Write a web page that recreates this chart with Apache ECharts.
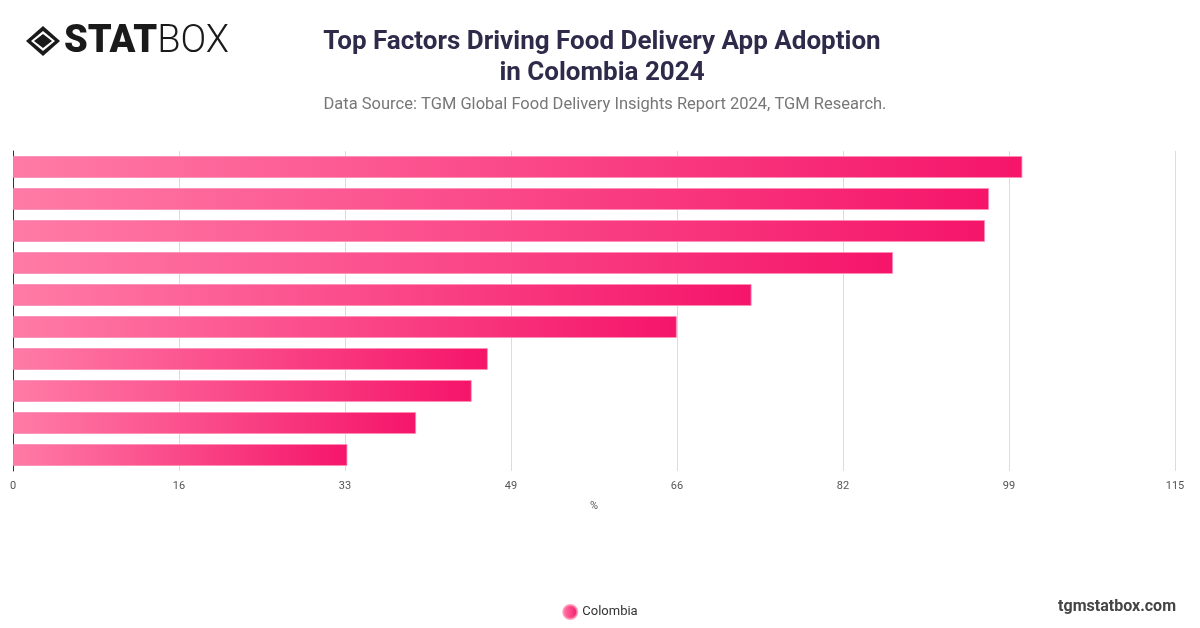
<!DOCTYPE html>
<html>
<head>
<meta charset="utf-8">
<script src="https://cdn.jsdelivr.net/npm/echarts@6/dist/echarts.min.js"></script>
<style>
html,body{margin:0;padding:0;background:#fff;}
#chart{width:1200px;height:628px;}
</style>
</head>
<body>
<div id="chart"></div>
<script>
// Data (top to bottom)
const categories = ["Factor 1","Factor 2","Factor 3","Factor 4","Factor 5","Factor 6","Factor 7","Factor 8","Factor 9","Factor 10"];
const colombiaValues = [99.9, 96.6, 96.2, 87.1, 73.1, 65.7, 47.0, 45.4, 39.9, 33.1];
const seriesName = "Colombia";
const axisMax = 115;
const axisTickCount = 7;

const chart = echarts.init(document.getElementById('chart'));
const barGradient = new echarts.graphic.LinearGradient(0, 0, 1, 0, [
  {offset: 0, color: '#ff7ba6'},
  {offset: 1, color: '#f5156a'}
]);
const option = {
  backgroundColor: '#fff',
  animation: false,
  title: [{
    text: 'Top Factors Driving Food Delivery App Adoption\nin Colombia 2024',
    left: 597, top: 22, textAlign: 'center',
    textStyle: {fontFamily: 'Roboto', fontWeight: 'bold', fontSize: 26, color: '#2e2a4a', lineHeight: 31}
  }, {
    text: 'Data Source: TGM Global Food Delivery Insights Report 2024, TGM Research.',
    left: 600, top: 91, textAlign: 'center',
    textStyle: {fontFamily: 'Roboto', fontWeight: 'normal', fontSize: 16.5, color: '#777'}
  }],
  legend: {
    data: [seriesName],
    bottom: 3, left: 'center',
    icon: 'circle', itemWidth: 14, itemHeight: 14,
    textStyle: {fontFamily: 'Roboto', fontSize: 13, color: '#333'}
  },
  grid: {left: 13, right: 25, top: 151, bottom: 157, containLabel: false},
  xAxis: {
    type: 'value', min: 0, max: axisMax, interval: axisMax / axisTickCount,
    name: '%', nameLocation: 'middle', nameGap: 30,
    nameTextStyle: {fontFamily: 'Roboto', fontSize: 11, color: '#555'},
    axisLine: {show: false}, axisTick: {show: false},
    axisLabel: {fontFamily: 'Roboto', fontSize: 11, color: '#555', margin: 10,
      formatter: v => Math.round(v)},
    splitLine: {show: true, lineStyle: {color: '#dcdcdc', width: 1}}
  },
  yAxis: {
    type: 'category', data: categories, inverse: true,
    axisLine: {show: true, lineStyle: {color: '#333', width: 1}},
    axisTick: {show: false},
    axisLabel: {show: false},
    splitLine: {show: false}
  },
  series: [{
    name: seriesName, type: 'bar', data: colombiaValues,
    barWidth: 22,
    itemStyle: {color: barGradient, borderColor: 'rgba(255,140,180,0.8)', borderWidth: 1}
  }],
  graphic: [
    // logo icon: outer diamond with inner diamond
    {type: 'polygon', shape: {points: [[43,26],[60,41],[43,56],[26,41]]}, style: {fill: '#1a1a1a'}},
    {type: 'polygon', shape: {points: [[43,31],[55,41],[43,51],[31,41]]}, style: {fill: '#fff'}},
    {type: 'polygon', shape: {points: [[43,34],[52,41],[43,48],[34,41]]}, style: {fill: '#1a1a1a'}},
    {type: 'text', left: 64, top: 23, style: {
      text: '{a|STAT}{b|BOX}',
      rich: {
        a: {fontFamily: 'Roboto', fontWeight: 900, fontSize: 38, fill: '#1a1a1a'},
        b: {fontFamily: 'Roboto', fontWeight: 300, fontSize: 38, fill: '#1a1a1a'}
      }
    }},
    {type: 'text', right: 24, top: 599, style: {
      text: 'tgmstatbox.com', fontFamily: 'Roboto', fontWeight: 'bold', fontSize: 16, fill: '#444'
    }}
  ]
};
chart.setOption(option);
</script>
</body>
</html>
